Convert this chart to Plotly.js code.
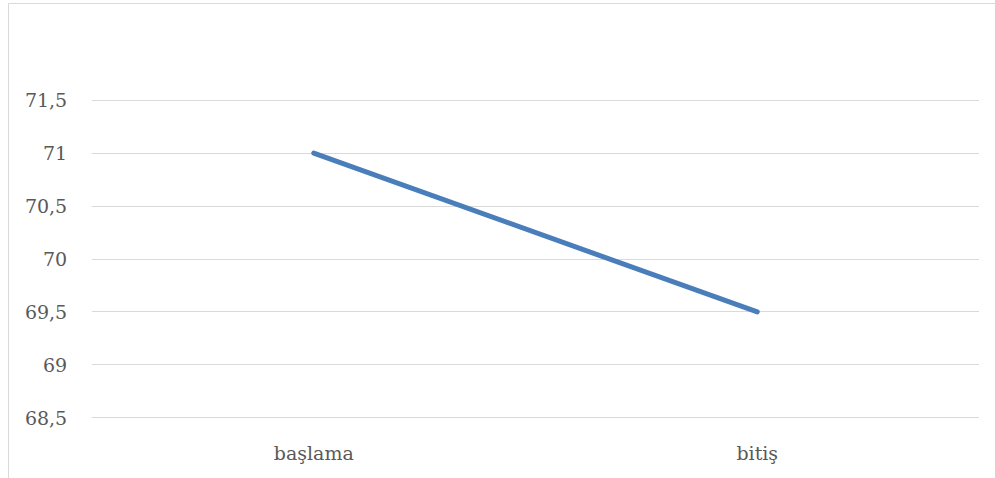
<!DOCTYPE html>
<html>
<head>
<meta charset="utf-8">
<script src="https://cdn.plot.ly/plotly-3.0.1.min.js"></script>
<style>
  html, body { margin: 0; padding: 0; background: #ffffff; }
  #chart { width: 995px; height: 478px; }
  /* rounded ends on the data line */
  #chart .scatterlayer path.js-line { stroke-linecap: round; stroke-linejoin: round; }
</style>
</head>
<body>
<div id="chart"></div>
<script>
// Two measurement points and their values
const categories = ["başlama", "bitiş"];
const values = [71, 69.5];
const yTicks = [68.5, 69, 69.5, 70, 70.5, 71, 71.5];
const yTickLabels = ["68,5", "69", "69,5", "70", "70,5", "71", "71,5"];

const W = 995, H = 478;
// a little headroom around the value range so the outer gridlines are drawn
const yMin = 68.48, yMax = 71.52;
const margin = { l: 92, r: 16, t: 98, b: 58 };
const plotW = W - margin.l - margin.r;
const plotH = H - margin.t - margin.b;

// pixel -> paper helpers for the chart-area frame
const px = x => (x - margin.l) / plotW;
const py = y => (H - margin.b - y) / plotH;

const textColor = "#595959";
const fontFamily = "'DejaVu Serif', serif";
const fontSize = 19;

const trace = {
  type: "scatter",
  mode: "lines",
  x: categories,
  y: values,
  line: { color: "#4a7ebb", width: 5, shape: "linear" },
  hoverinfo: "skip"
};

const layout = {
  width: W,
  height: H,
  margin: margin,
  paper_bgcolor: "#ffffff",
  plot_bgcolor: "#ffffff",
  showlegend: false,
  font: { family: fontFamily, size: fontSize, color: textColor },
  xaxis: {
    type: "category",
    range: [-0.5, 1.5],
    showgrid: false,
    zeroline: false,
    showline: false,
    ticks: "outside",
    ticklen: 16,
    tickcolor: "rgba(0,0,0,0)",
    tickfont: { family: fontFamily, size: fontSize, color: textColor },
    fixedrange: true
  },
  yaxis: {
    range: [yMin, yMax],
    tickvals: yTicks,
    ticktext: yTickLabels,
    showgrid: true,
    gridcolor: "#d9d9d9",
    gridwidth: 1,
    zeroline: false,
    showline: false,
    ticks: "outside",
    ticklen: 20,
    tickcolor: "rgba(0,0,0,0)",
    tickfont: { family: fontFamily, size: fontSize, color: textColor },
    fixedrange: true
  },
  shapes: [
    {
      type: "rect",
      xref: "paper", yref: "paper",
      x0: px(8.5), x1: px(W + 20),
      y0: py(H + 20), y1: py(3.5),
      line: { color: "#d9d9d9", width: 1 },
      fillcolor: "rgba(0,0,0,0)",
      layer: "below"
    }
  ]
};

Plotly.newPlot("chart", [trace], layout, { displayModeBar: false, staticPlot: true });
</script>
</body>
</html>
